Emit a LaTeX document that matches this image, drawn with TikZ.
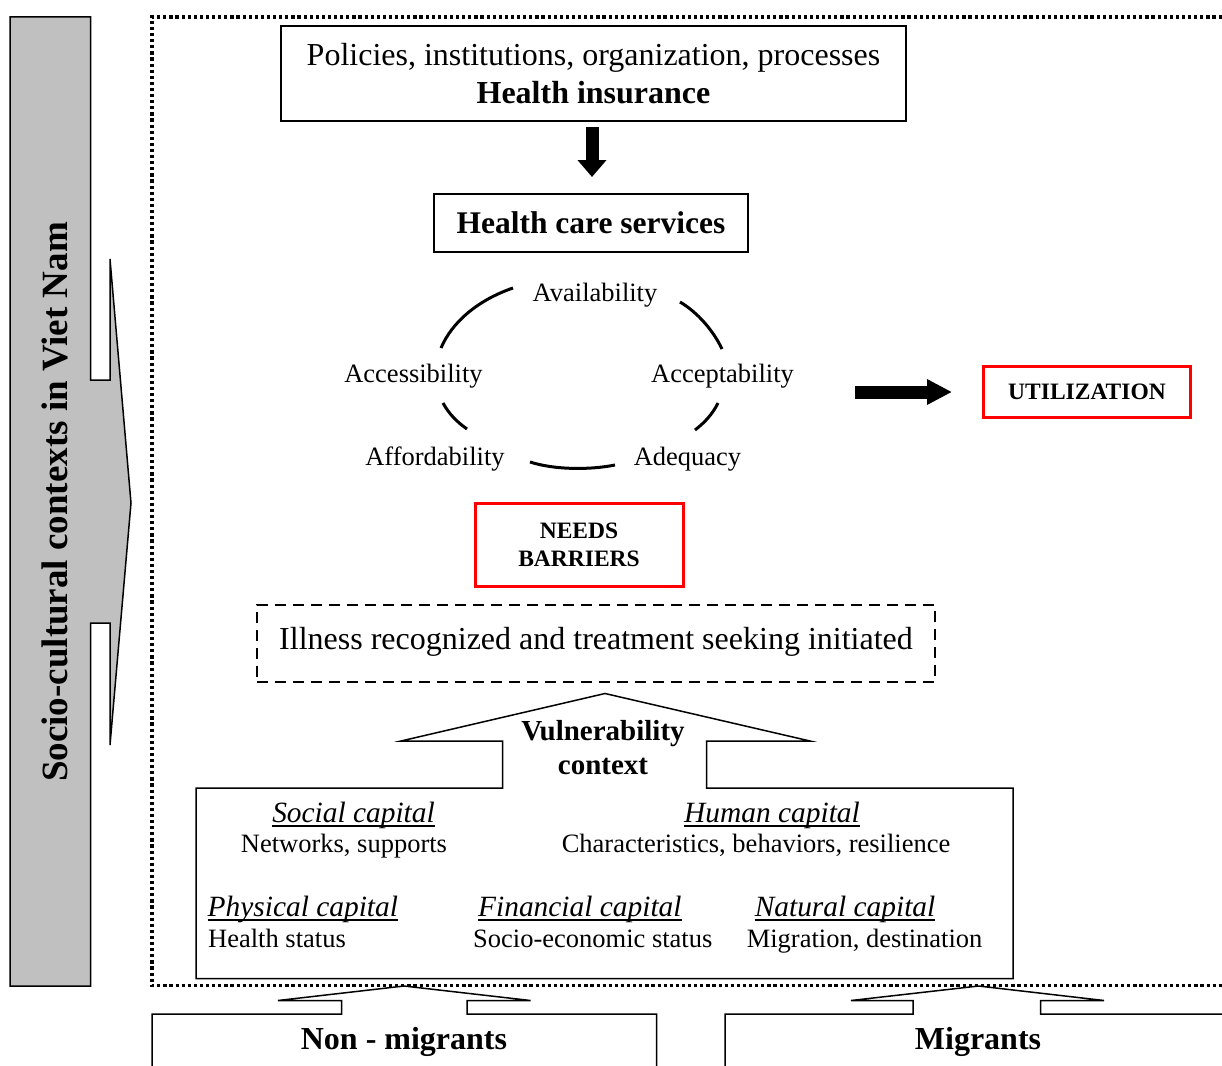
\documentclass[tikz,border=0pt]{standalone}
\usepackage{fontspec}
\setmainfont{Liberation Serif}
\usetikzlibrary{arrows.meta}
\definecolor{sidegray}{RGB}{192,192,192}
\newcommand{\myul}[1]{\setbox0\hbox{#1}\rlap{\rule[-4pt]{\wd0}{1.6pt}}\box0}
\newcommand{\capit}[1]{\myul{\fontsize{29.4}{30}\selectfont\itshape #1}}
\begin{document}
\begin{tikzpicture}[x=1pt,y=-1pt,
  box/.style={draw, line width=1.5pt, inner sep=0pt, align=center},
  redbox/.style={draw=red, line width=3pt, inner sep=0pt, align=center, font=\bfseries\fontsize{23.5}{28}\selectfont},
  lbl/.style={inner sep=0pt, anchor=base, font=\fontsize{26.5}{30}\selectfont},
  capt/.style={inner sep=0pt, anchor=base, font=\fontsize{26.5}{30}\selectfont},
  capl/.style={capt, anchor=base west},
  arcline/.style={line width=3pt},
  outl/.style={draw, line width=1.5pt, line join=miter},
  blockdown/.style={line width=13pt, -{Triangle[width=28pt,length=17pt]}},
  blockright/.style={line width=13pt, -{Triangle[width=24pt,length=25pt]}}
]
\useasboundingbox (0,0) rectangle (1222,1065);

% left grey arrow
\filldraw[fill=sidegray, outl] (10,17) -- (90.5,17) -- (90.5,380) -- (110,380) -- (110,259) -- (131,503) -- (110,745) -- (110,623) -- (90.5,623) -- (90.5,986) -- (10,986) -- cycle;
\node[rotate=90, inner sep=0pt, font=\bfseries\fontsize{37}{40}\selectfont] (side) at (55,502) {Socio-cultural contexts in Viet Nam};

% dotted frame
\draw[line width=3.2pt, dash pattern=on 3.2pt off 2.9pt] (1240,17) -- (152,17) -- (152,985.5) -- (1240,985.5);

% top boxes
\node[box, minimum width=625, minimum height=95, font=\fontsize{32}{38}\selectfont] (policy) at (593.5,73.5) {Policies, institutions, organization, processes\\\textbf{Health insurance}};
\node[box, minimum width=314, minimum height=58, font=\bfseries\fontsize{31.5}{38}\selectfont] (hcs) at (591,223) {Health care services};
\coordinate (d1) at (592,127);
\coordinate (d2) at (592,177);
\draw[blockdown] (d1) -- (d2);

% circle of A's
\node[lbl] (avail) at (595,301.7) {Availability};
\node[lbl] (access) at (413.5,382.7) {Accessibility};
\node[lbl] (accept) at (722.5,382.7) {Acceptability};
\node[lbl] (afford) at (435,465) {Affordability};
\node[lbl] (adeq) at (687.5,465) {Adequacy};
\draw[arcline] (441,348) .. controls (452,322) and (478,300) .. (513,288);
\draw[arcline] (680,302) .. controls (697,312) and (713,330) .. (722,349);
\draw[arcline] (443,403) .. controls (449,414) and (457,422) .. (467,429);
\draw[arcline] (718,403) .. controls (712,415) and (704,423) .. (695,430);
\draw[arcline] (530,462) .. controls (555,470) and (590,470) .. (615,465);

% utilization
\node[redbox, minimum width=207, minimum height=51] (util) at (1087,392) {UTILIZATION};
\coordinate (u1) at (855,392);
\coordinate (u2) at (952,392);
\draw[blockright] (u1) -- (u2);

% needs barriers
\node[redbox, minimum width=208, minimum height=83] (needs) at (579,544.5) {NEEDS\\BARRIERS};

% illness
\node[box, dash pattern=on 11pt off 7pt, minimum width=678, minimum height=77, font=\fontsize{32}{38}\selectfont] (ill) at (596,643.5) {\raisebox{10pt}{Illness recognized and treatment seeking initiated}};

% capitals box with vulnerability arrow
\draw[outl] (196,788) -- (502.5,788) -- (502.5,741) -- (401,741) -- (605,693.5) -- (810,741) -- (706.5,741) -- (706.5,788) -- (1013,788) -- (1013,978.5) -- (196,978.5) -- cycle;
\node[inner sep=0pt, align=center, font=\bfseries\fontsize{29}{34}\selectfont] (vuln) at (603,748) {Vulnerability\\context};

\node[capt] (soc) at (353.5,822.7) {\capit{Social capital}};
\node[capt] (socd) at (344,852.7) {Networks, supports};
\node[capt] (hum) at (772,822.7) {\capit{Human capital}};
\node[capt] (humd) at (756,852.7) {Characteristics, behaviors, resilience};
\node[capl] (phy) at (207.5,916.7) {\capit{Physical capital}};
\node[capl] (phyd) at (208,947.7) {Health status};
\node[capl] (fin) at (478,916.7) {\capit{Financial capital}};
\node[capl] (find) at (473,947.7) {Socio-economic status};
\node[capl] (nat) at (754.6,916.7) {\capit{Natural capital}};
\node[capl] (natd) at (746.6,947.7) {Migration, destination};

% bottom groups
\draw[outl] (152,1075) -- (152,1014) -- (341.5,1014) -- (341.5,1000.5) -- (278,1000.5) -- (404,986) -- (530.5,1000.5) -- (467,1000.5) -- (467,1014) -- (656.5,1014) -- (656.5,1075);
\draw[outl] (725,1075) -- (725,1014) -- (913,1014) -- (913,1000.5) -- (851,1000.5) -- (978.5,986) -- (1104,1000.5) -- (1040.5,1000.5) -- (1040.5,1014) -- (1240,1014);
\node[inner sep=0pt, font=\bfseries\fontsize{32}{38}\selectfont] (nonmig) at (404,1042) {Non - migrants};
\node[inner sep=0pt, font=\bfseries\fontsize{32}{38}\selectfont] (mig) at (978,1042) {Migrants};
\end{tikzpicture}
\end{document}
